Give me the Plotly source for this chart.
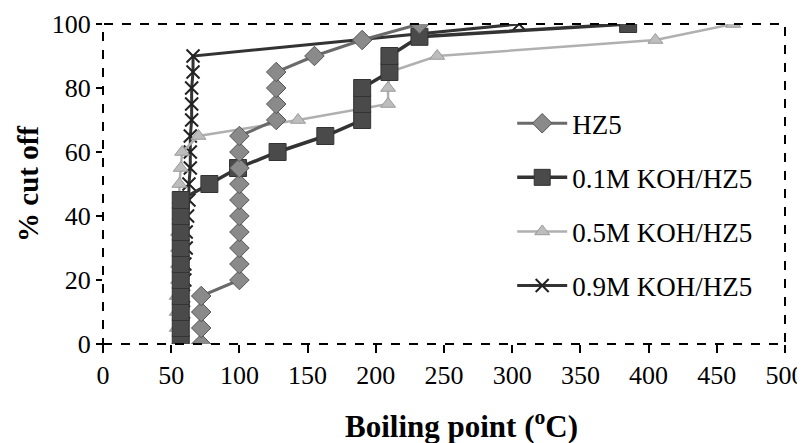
import plotly.graph_objects as go

# HZ5
hz5_x = [72, 72, 72, 72, 100, 100, 100, 100, 100, 100, 100, 100, 100, 100, 127, 127, 127, 127, 155, 190, 232]
hz5_y = [0, 5, 10, 15, 20, 25, 30, 35, 40, 45, 50, 55, 60, 65, 70, 75, 80, 85, 90, 95, 100]

# 0.1M KOH/HZ5
k01_x = [57, 57, 57, 57, 57, 57, 57, 57, 57, 57, 78, 99, 128, 163, 190, 190, 190, 210, 210, 232, 385]
k01_y = [0, 5, 10, 15, 20, 25, 30, 35, 40, 45, 50, 55, 60, 65, 70, 75, 80, 85, 90, 96, 100]

# 0.5M KOH/HZ5
k05_x = [54, 54, 54, 54, 55, 55, 55, 55, 56, 56, 56, 57, 58, 70, 143, 209, 209, 210, 245, 405, 462]
k05_y = [0, 5, 10, 15, 20, 25, 30, 35, 40, 45, 50, 55, 60, 65, 70, 75, 80, 85, 90, 95, 100]

# 0.9M KOH/HZ5
k09_x = [58, 58, 59, 59, 60, 60, 61, 61, 62, 63, 63, 64, 64, 64, 65, 65, 65, 66, 66, 305]
k09_y = [0, 5, 10, 15, 20, 25, 30, 35, 40, 45, 50, 55, 60, 65, 70, 75, 80, 85, 90, 100]

x_ticks = [0, 50, 100, 150, 200, 250, 300, 350, 400, 450, 500]
y_ticks = [0, 20, 40, 60, 80, 100]

FONT = "'Liberation Serif', 'Times New Roman', Times, serif"

fig = go.Figure()
fig.add_trace(go.Scatter(
    x=k09_x, y=k09_y, name="0.9M KOH/HZ5", mode="lines+markers", legendgroup="d",
    line=dict(color="#333333", width=3),
    marker=dict(symbol="x-thin", size=13, line=dict(color="#222222", width=2)),
    legendrank=4))
fig.add_trace(go.Scatter(
    x=k05_x, y=k05_y, name="0.5M KOH/HZ5", mode="lines+markers", legendgroup="c",
    line=dict(color="#b0b0b0", width=2.5),
    marker=dict(symbol="triangle-up", size=13, color="#bdbdbd", line=dict(color="#9a9a9a", width=1)),
    legendrank=3))
fig.add_trace(go.Scatter(
    x=k01_x, y=k01_y, name="0.1M KOH/HZ5", mode="lines+markers", legendgroup="b",
    line=dict(color="#333333", width=3.5),
    marker=dict(symbol="square", size=17, color="#4a4a4a", line=dict(color="#333333", width=1)),
    legendrank=2))
fig.add_trace(go.Scatter(
    x=hz5_x, y=hz5_y, name="HZ5", mode="lines+markers", legendgroup="a",
    line=dict(color="#6a6a6a", width=3),
    marker=dict(symbol="diamond", size=15, color="#8a8a8a", line=dict(color="#555555", width=1)),
    legendrank=1))

# dashed frame around plot area
fig.add_shape(type="rect", xref="paper", yref="paper", x0=0, y0=0, x1=1, y1=1,
              line=dict(color="black", width=2, dash="dash"), layer="above")

# x-axis title (placed slightly right of centre as in the reference)
fig.add_annotation(text="<b>Boiling point (<sup>o</sup>C)</b>", xref="paper", yref="paper",
                   x=0.526, y=-0.253, xanchor="center", yanchor="middle", showarrow=False,
                   font=dict(family=FONT, size=31, color="black"))

fig.update_layout(
    width=797, height=435,
    margin=dict(l=95, r=20, t=16, b=99),
    paper_bgcolor="white", plot_bgcolor="white",
    font=dict(family=FONT, size=25, color="black"),
    showlegend=True,
    legend=dict(x=0.60, y=0.765, xanchor="left", yanchor="top",
                bgcolor="rgba(0,0,0,0)", font=dict(family=FONT, size=27, color="black"),
                traceorder="grouped", tracegroupgap=16, itemwidth=50),
    xaxis=dict(range=[0, 500], tickvals=x_ticks, ticktext=[str(v) for v in x_ticks],
               showgrid=False, zeroline=False, showline=False, automargin=False,
               ticks="outside", ticklen=8, tickcolor="black", tickwidth=1.5,
               tickfont=dict(family=FONT, size=26)),
    yaxis=dict(range=[0, 100], tickvals=y_ticks, ticktext=[str(v) for v in y_ticks],
               showgrid=False, zeroline=False, showline=False, automargin=False,
               ticks="outside", ticklen=6, tickcolor="black", tickwidth=1.5,
               tickfont=dict(family=FONT, size=26),
               title=dict(text="<b>% cut off</b>", font=dict(family=FONT, size=29), standoff=4)),
)

fig.write_html("out.html")
